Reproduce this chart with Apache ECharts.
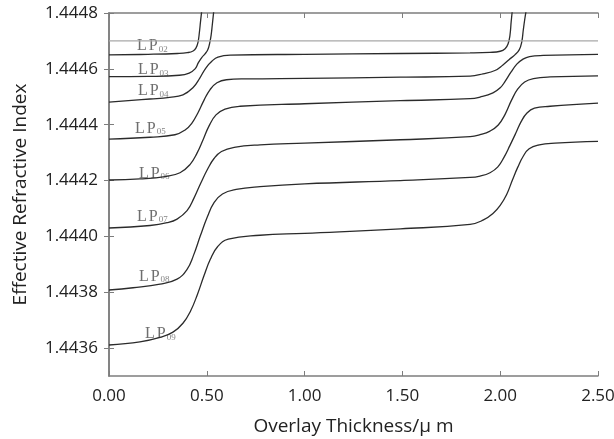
<!DOCTYPE html>
<html>
<head>
    <meta charset="utf-8">
    <title>Effective Refractive Index</title>
    <script src="https://cdn.jsdelivr.net/npm/echarts@6.0.0/dist/echarts.min.js"></script>
    <style>
        html, body { margin: 0; padding: 0; background: #ffffff; }
        #chart { width: 614px; height: 439px; }
    </style>
</head>
<body>
<div id="chart"></div>
<script>
    // 曲线数据 [厚度 μm, 有效折射率]
    var lp02 = [[0, 1.44465], [0.2, 1.444652], [0.35, 1.444655], [0.40, 1.444658], [0.43, 1.444664],
        [0.445, 1.444675], [0.455, 1.444695], [0.462, 1.44473], [0.468, 1.44477], [0.476, 1.44482]];
    var lp03 = [[0, 1.444572], [0.2, 1.444573], [0.36, 1.444577], [0.41, 1.444585], [0.44, 1.4446],
        [0.457, 1.444622], [0.475, 1.444641], [0.49, 1.444653], [0.505, 1.444668], [0.515, 1.444693],
        [0.522, 1.44472], [0.528, 1.444757], [0.536, 1.44481]];
    var lp04 = [[0, 1.444481], [0.21, 1.444492], [0.31, 1.444498], [0.378, 1.444507], [0.429, 1.444532],
        [0.465, 1.444568], [0.495, 1.444603], [0.527, 1.444628], [0.557, 1.444642], [0.62, 1.444649],
        [1.0, 1.444652], [1.49, 1.444655], [1.846, 1.444657], [1.948, 1.444659], [2.0, 1.444663],
        [2.025, 1.444672], [2.04, 1.444689], [2.05, 1.444721], [2.056, 1.444768], [2.062, 1.44481]];
    var lp05 = [[0, 1.444348], [0.21, 1.444355], [0.337, 1.444364], [0.389, 1.444381], [0.424, 1.444406],
        [0.455, 1.444443], [0.486, 1.444488], [0.516, 1.444525], [0.552, 1.44455], [0.6, 1.444561],
        [0.7, 1.444564], [1.0, 1.444566], [1.49, 1.44457], [1.846, 1.444574], [1.912, 1.444582],
        [1.973, 1.444594], [2.014, 1.444614], [2.045, 1.444633], [2.075, 1.44465], [2.097, 1.444668],
        [2.11, 1.444696], [2.118, 1.444739], [2.125, 1.444775], [2.133, 1.44481]];
    var lp06 = [[0, 1.444202], [0.158, 1.444206], [0.286, 1.444214], [0.363, 1.444228], [0.414, 1.444257],
        [0.45, 1.444298], [0.481, 1.444346], [0.511, 1.444395], [0.547, 1.444435], [0.593, 1.444456],
        [0.67, 1.444466], [1.0, 1.444475], [1.49, 1.444486], [1.846, 1.444493], [1.897, 1.444499],
        [1.963, 1.444514], [2.0, 1.444532], [2.025, 1.444555], [2.055, 1.444588], [2.085, 1.444617],
        [2.115, 1.444634], [2.15, 1.444644], [2.22, 1.444648], [2.5, 1.444652]];
    var lp07 = [[0, 1.44403], [0.21, 1.444039], [0.297, 1.444049], [0.348, 1.444062], [0.399, 1.444092],
        [0.435, 1.444138], [0.47, 1.444192], [0.505, 1.444242], [0.537, 1.444279], [0.575, 1.444304],
        [0.64, 1.444319], [0.772, 1.444328], [1.0, 1.444334], [1.49, 1.444346], [1.846, 1.444357],
        [1.897, 1.444364], [1.948, 1.444377], [1.99, 1.444399], [2.025, 1.444437], [2.058, 1.444488],
        [2.09, 1.444528], [2.125, 1.444553], [2.17, 1.444565], [2.255, 1.444571], [2.5, 1.444575]];
    var lp08 = [[0, 1.443808], [0.123, 1.443816], [0.261, 1.443829], [0.348, 1.443847], [0.399, 1.443882],
        [0.432, 1.443932], [0.467, 1.444002], [0.503, 1.44407], [0.537, 1.444121], [0.58, 1.444152],
        [0.65, 1.444168], [0.772, 1.444178], [1.0, 1.444188], [1.49, 1.4442], [1.846, 1.444211],
        [1.897, 1.444216], [1.948, 1.444228], [1.988, 1.444249], [2.02, 1.444284], [2.05, 1.444326],
        [2.08, 1.44437], [2.107, 1.444411], [2.137, 1.444442], [2.175, 1.444459], [2.255, 1.444466],
        [2.5, 1.444477]];
    var lp09 = [[0, 1.443611], [0.158, 1.443622], [0.261, 1.443638], [0.327, 1.443657], [0.378, 1.443689],
        [0.417, 1.443733], [0.452, 1.443792], [0.485, 1.443858], [0.518, 1.443918], [0.555, 1.443963],
        [0.61, 1.44399], [0.772, 1.444004], [1.0, 1.444011], [1.49, 1.444027], [1.846, 1.444043],
        [1.912, 1.444058], [1.963, 1.444082], [2.0, 1.444111], [2.033, 1.44415], [2.063, 1.444203],
        [2.09, 1.444248], [2.117, 1.444286], [2.148, 1.444314], [2.2, 1.444328], [2.28, 1.444334],
        [2.5, 1.44434]];

    var curves = [lp02, lp03, lp04, lp05, lp06, lp07, lp08, lp09];
    var modeNames = ['02', '03', '04', '05', '06', '07', '08', '09'];
    // 标注位置 (文字左端)
    var labelPos = [[0.143, 1.444682], [0.148, 1.444596], [0.148, 1.444521], [0.133, 1.444386],
        [0.153, 1.444225], [0.143, 1.444071], [0.153, 1.443857], [0.184, 1.44365]];
    // 包层折射率
    var claddingLine = [[0, 1.4447], [2.5, 1.4447]];

    var yTicks = [1.4436, 1.4438, 1.4440, 1.4442, 1.4444, 1.4446, 1.4448];

    var chart = echarts.init(document.getElementById('chart'));

    var axisColor = '#7d7d7d';
    var textFont = '"Open Sans", "DejaVu Sans", sans-serif';
    var serifFont = '"Liberation Serif", "DejaVu Serif", serif';

    var series = [];
    for (var i = 0; i < curves.length; i++) {
        series.push({
            name: 'LP' + modeNames[i],
            type: 'line',
            data: curves[i],
            showSymbol: false,
            smooth: 0.45,
            clip: true,
            lineStyle: {color: '#2b2b2b', width: 1.3},
            silent: true
        });
    }
    series.push({
        type: 'line',
        data: claddingLine,
        showSymbol: false,
        lineStyle: {color: '#a8a8a8', width: 1.3},
        silent: true
    });

    var labelData = [];
    for (var j = 0; j < labelPos.length; j++) {
        labelData.push({value: labelPos[j], sub: modeNames[j]});
    }
    series.push({
        type: 'scatter',
        data: labelData,
        symbolSize: 0,
        silent: true,
        label: {
            show: true,
            position: 'right',
            distance: 0,
            formatter: function (p) {
                return '{a|L}{p|P}{b|' + p.data.sub + '}';
            },
            rich: {
                a: {fontFamily: serifFont, fontSize: 16, color: '#4a4a4a', lineHeight: 16},
                p: {fontFamily: serifFont, fontSize: 16, color: '#4a4a4a', lineHeight: 16, padding: [0, 0, 0, 2]},
                b: {fontFamily: serifFont, fontSize: 9, color: '#666666', lineHeight: 9,
                    verticalAlign: 'bottom', padding: [0, 0, 0, 1]}
            }
        }
    });

    var option = {
        animation: false,
        grid: {left: 109, right: 16, top: 13, bottom: 63, outerBoundsMode: 'none'},
        xAxis: [{
            type: 'value',
            min: 0, max: 2.5, interval: 0.5,
            name: 'Overlay Thickness/μ m',
            nameLocation: 'middle',
            nameGap: 41,
            nameTextStyle: {fontFamily: textFont, fontSize: 19, color: '#222'},
            axisLine: {show: true, lineStyle: {color: axisColor, width: 1.5}},
            axisTick: {show: true, inside: true, length: 5, lineStyle: {color: axisColor}},
            axisLabel: {
                margin: 12, fontFamily: textFont, fontSize: 17, color: '#222',
                formatter: function (v) { return v.toFixed(2); }
            },
            splitLine: {show: false}
        }, {
            type: 'value',
            position: 'top',
            min: 0, max: 2.5, interval: 0.5,
            axisLine: {show: true, lineStyle: {color: axisColor, width: 1.5}},
            axisTick: {show: true, inside: true, length: 5, lineStyle: {color: axisColor}},
            axisLabel: {show: false},
            splitLine: {show: false}
        }],
        yAxis: [{
            type: 'value',
            min: 1.4435, max: 1.4448,
            name: 'Effective Refractive Index',
            nameLocation: 'middle',
            nameGap: 79,
            nameTextStyle: {fontFamily: textFont, fontSize: 19, color: '#222'},
            axisLine: {show: true, lineStyle: {color: axisColor, width: 1.5}},
            axisTick: {show: true, inside: true, length: 5, customValues: yTicks, lineStyle: {color: axisColor}},
            axisLabel: {
                margin: 11, fontFamily: textFont, fontSize: 17, color: '#222',
                customValues: yTicks,
                formatter: function (v) { return v.toFixed(4); }
            },
            splitLine: {show: false}
        }, {
            type: 'value',
            position: 'right',
            min: 1.4435, max: 1.4448,
            axisLine: {show: true, lineStyle: {color: axisColor, width: 1.5}},
            axisTick: {show: true, inside: true, length: 5, customValues: yTicks, lineStyle: {color: axisColor}},
            axisLabel: {show: false, customValues: yTicks},
            splitLine: {show: false}
        }],
        series: series
    };
    chart.setOption(option);
</script>
</body>
</html>
